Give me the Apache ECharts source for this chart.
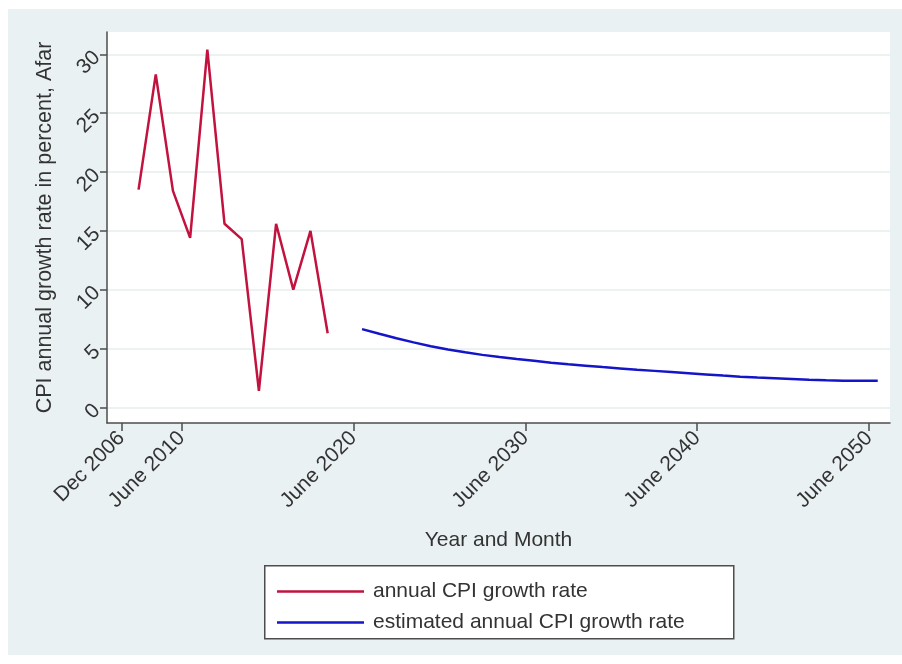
<!DOCTYPE html>
<html>
<head>
<meta charset="utf-8">
<script src="https://cdn.jsdelivr.net/npm/echarts@6/dist/echarts.min.js"></script>
<style>
  html, body { margin: 0; padding: 0; background: #ffffff; }
  #panel { position: absolute; left: 8px; top: 9px; width: 894px; height: 646px; background: #eaf1f3; }
  #chart { position: absolute; left: 0; top: 0; width: 902px; height: 664px; }
</style>
</head>
<body>
<div id="panel"></div>
<div id="chart"></div>
<script>
// Observed annual CPI growth (December, year on year), Afar
const observedYears = [2007, 2008, 2009, 2010, 2011, 2012, 2013, 2014, 2015, 2016, 2017, 2018];
const observedRate  = [18.5, 28.3, 18.4, 14.4, 30.4, 15.6, 14.3, 1.4, 15.6, 10.0, 15.0, 6.3];

// Estimated path (December values)
const estimatedYears = [2020, 2021, 2022, 2023, 2024, 2025, 2026, 2027, 2028, 2029,
                        2030, 2031, 2032, 2033, 2034, 2035, 2036, 2037, 2038, 2039,
                        2040, 2041, 2042, 2043, 2044, 2045, 2046, 2047, 2048, 2049, 2050];
const estimatedRate  = [6.65, 6.25, 5.87, 5.52, 5.20, 4.92, 4.68, 4.46, 4.27, 4.10,
                        3.96, 3.80, 3.66, 3.54, 3.42, 3.31, 3.20, 3.10, 3.00, 2.90,
                        2.80, 2.70, 2.61, 2.53, 2.47, 2.41, 2.35, 2.30, 2.27, 2.26, 2.26];

// Date ticks on the time axis: [year, month]
const xTickDates  = [[2006, 12], [2010, 6], [2020, 6], [2030, 6], [2040, 6], [2050, 6]];
const xTickLabels = ['Dec 2006', 'June 2010', 'June 2020', 'June 2030', 'June 2040', 'June 2050'];
const yTicks = [0, 5, 10, 15, 20, 25, 30];

const seriesNames = ['annual CPI growth rate', 'estimated annual CPI growth rate'];

// monthly date -> decimal year (January = .0)
const toX = (y, m) => y + (m - 1) / 12;
const xTickValues = xTickDates.map(d => toX(d[0], d[1]));

const observed  = observedYears.map((y, i) => [toX(y, 12), observedRate[i]]);
const estimated = estimatedYears.map((y, i) => [toX(y, 12), estimatedRate[i]]);

const FONT = '"Liberation Sans", Arial, sans-serif';
const TEXT = '#333333';
const AXIS = '#4d4d4d';

const chart = echarts.init(document.getElementById('chart'), null, { renderer: 'canvas' });
chart.setOption({
  animation: false,
  backgroundColor: 'transparent',
  textStyle: { fontFamily: FONT },
  grid: {
    left: 107, right: 12, top: 32, bottom: 241,
    show: true, backgroundColor: '#ffffff', borderWidth: 0
  },
  graphic: [{
    type: 'rect', left: 264, top: 565, z: 0,
    shape: { width: 469, height: 73 },
    style: { fill: '#ffffff', stroke: '#4d4d4d', lineWidth: 1.5 }
  }],
  legend: {
    orient: 'vertical', left: 272, top: 576, z: 10,
    itemWidth: 87, itemHeight: 2.5, itemGap: 10,
    icon: 'rect',
    data: seriesNames,
    textStyle: { fontSize: 21, color: TEXT, fontFamily: FONT, padding: [0, 0, 0, 4] }
  },
  xAxis: {
    type: 'value',
    min: 2006.08, max: 2051.63,
    name: 'Year and Month', nameLocation: 'middle', nameGap: 107,
    nameTextStyle: { fontSize: 21, color: TEXT, fontFamily: FONT },
    axisLine: { onZero: false, lineStyle: { color: AXIS, width: 1.5 } },
    axisTick: { customValues: xTickValues, length: 8, lineStyle: { color: AXIS, width: 1.5 } },
    axisLabel: {
      customValues: xTickValues, rotate: 45, margin: 12,
      fontSize: 21, color: TEXT, fontFamily: FONT,
      formatter: v => {
        let best = 0;
        xTickValues.forEach((t, i) => { if (Math.abs(t - v) < Math.abs(xTickValues[best] - v)) best = i; });
        return xTickLabels[best];
      }
    },
    splitLine: { show: false }
  },
  yAxis: {
    type: 'value',
    min: -1.33, max: 31.9,
    name: 'CPI annual growth rate in percent, Afar', nameLocation: 'middle', nameGap: 51,
    nameTextStyle: { fontSize: 21.5, color: TEXT, fontFamily: FONT },
    axisLine: { show: true, onZero: false, lineStyle: { color: AXIS, width: 1.5 } },
    axisTick: { show: true, customValues: yTicks, length: 7, lineStyle: { color: AXIS, width: 1.5 } },
    axisLabel: { customValues: yTicks, rotate: 45, margin: 10, fontSize: 21, color: TEXT, fontFamily: FONT },
    splitLine: { show: true, lineStyle: { color: '#e6ecee', width: 1.5 } }
  },
  series: [
    {
      name: seriesNames[0], type: 'line', data: observed,
      showSymbol: false, symbol: 'none',
      color: '#c2123e', lineStyle: { width: 2.5, color: '#c2123e' }
    },
    {
      name: seriesNames[1], type: 'line', data: estimated,
      showSymbol: false, symbol: 'none',
      color: '#1414c8', lineStyle: { width: 2.5, color: '#1414c8' }
    }
  ]
});
</script>
</body>
</html>
